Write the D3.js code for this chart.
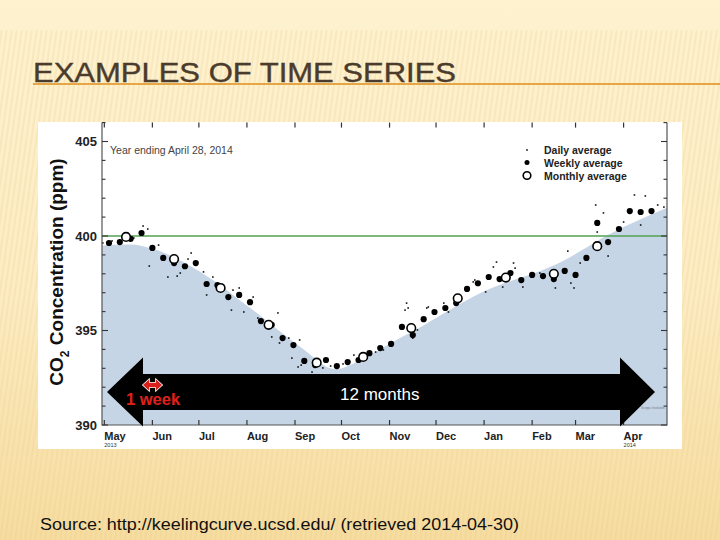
<!DOCTYPE html>
<html>
<head>
<meta charset="utf-8">
<script src="https://cdn.jsdelivr.net/npm/d3@7"></script>
<style>
  body { margin: 0; background: #fdf0c8; }
  text { font-family: "Liberation Sans", Arial, sans-serif; }
</style>
</head>
<body>
<svg></svg>
<script>
// Slide size.
var width = 720,
    height = 540;

// ---- data ----
var monthLabels = ["May", "Jun", "Jul", "Aug", "Sep", "Oct", "Nov", "Dec", "Jan", "Feb", "Mar", "Apr"];
var yearLabels = [{ month: "2013-05-01", label: "2013" }, { month: "2014-04-01", label: "2014" }];
var yMajor = [390, 395, 400, 405];

// smoothed seasonal curve (blue area)
var curveDates = ["2013-04-29", "2013-05-18", "2013-05-31", "2013-07-02", "2013-08-03", "2013-09-05",
                  "2013-09-27", "2013-10-15", "2013-11-01", "2013-11-17", "2013-12-30", "2014-02-19",
                  "2014-03-24", "2014-04-29"];
var curvePpm = [399.5, 399.55, 399.35, 398.1, 396.2, 394.1,
                392.95, 393.5, 394.3, 395.0, 397.0, 398.6,
                400.15, 401.5];

// monthly averages (open circles), mid month
var monthlyDates = ["2013-05-15", "2013-06-15", "2013-07-15", "2013-08-15", "2013-09-15", "2013-10-15",
                    "2013-11-15", "2013-12-15", "2014-01-15", "2014-02-15", "2014-03-15"];
var monthlyPpm = [399.95, 398.78, 397.25, 395.3, 393.3, 393.6, 395.13, 396.7, 397.8, 398.0, 399.46];

// weekly averages (filled dots), one per week from May 4, 2013
var weeklyStart = "2013-05-04";
var weeklyPpm = [399.63, 399.68, 399.85, 400.16, 399.37, 398.84, 398.57, 398.4, 398.57, 397.46,
                 397.4, 396.77, 396.88, 396.5, 395.5, 395.3, 394.6, 394.23, 393.39, 393.17,
                 393.44, 393.12, 393.33, 393.44, 393.8, 394.07, 394.29, 395.19, 394.76, 395.6,
                 395.98, 396.19, 396.45, 397.2, 397.5, 397.83, 397.72, 398.04, 397.67, 397.94,
                 397.88, 397.72, 398.15, 397.94, 398.84, 400.69, 399.68, 400.37, 401.32, 401.27,
                 401.32];

// a sample of the daily averages (specks), days after May 1, 2013
var dailyDay = [-1, 5, 15, 25, 28, 19, 35, 29, 41, 49, 47, 56, 54, 64, 70, 66, 87, 83, 96, 82,
                90, 99, 112, 108, 113, 119, 121, 125, 126, 127, 134, 141, 146, 154, 161, 175, 180,
                195, 194, 196, 199, 202, 208, 209, 219, 222, 238, 230, 239, 246, 251, 253, 264,
                265, 257, 270, 281, 291, 301, 303, 299, 307, 317, 322, 318, 325, 335, 342, 349,
                357, 361, 346];
var dailyPpm = [399.63, 399.74, 400.16, 400.53, 400.37, 399.89, 399.52, 398.41, 397.83, 398.04,
                397.88, 399.1, 398.78, 398.1, 397.83, 396.88, 397.25, 397.14, 396.77, 396.08,
                395.98, 395.66, 395.93, 394.66, 394.34, 394.6, 393.54, 393.07, 394.5, 393.17,
                392.8, 393.02, 393.12, 393.23, 393.7, 393.86, 393.97, 396.45, 396.08, 396.19,
                394.6, 395.03, 396.19, 396.24, 396.45, 395.98, 397.57, 396.72, 397.67, 397.04,
                398.36, 398.62, 398.57, 398.3, 397.3, 397.3, 398.04, 397.25, 397.51, 397.25,
                399.2, 398.57, 401.64, 401.22, 400.21, 398.94, 400.74, 402.17, 402.12, 401.64,
                401.53, 400.58];

var parse = d3.timeParse("%Y-%m-%d");

var svg = d3.select("svg")
    .attr("width", width)
    .attr("height", height);

// ---- slide background ----
var defs = svg.append("defs");
var bg = defs.append("linearGradient")
    .attr("id", "bg").attr("x1", 0).attr("y1", 0).attr("x2", 0).attr("y2", 1);
bg.append("stop").attr("offset", "0%").attr("stop-color", "#fef2cf");
bg.append("stop").attr("offset", "55%").attr("stop-color", "#fcecc2");
bg.append("stop").attr("offset", "100%").attr("stop-color", "#f6dc9f");

var stripes = defs.append("pattern")
    .attr("id", "stripes")
    .attr("width", 5).attr("height", 10)
    .attr("patternUnits", "userSpaceOnUse")
    .attr("patternTransform", "skewX(-8)");
stripes.append("rect").attr("width", 2).attr("height", 10)
    .attr("fill", "#e9c88a").attr("opacity", 0.22);

svg.append("rect").attr("width", width).attr("height", height).attr("fill", "url(#bg)");
svg.append("rect").attr("y", 30).attr("width", width).attr("height", height - 30)
    .attr("fill", "url(#stripes)");

// ---- title ----
svg.append("text")
    .attr("x", 33).attr("y", 82)
    .attr("textLength", 423).attr("lengthAdjust", "spacingAndGlyphs")
    .style("font-family", "'Liberation Sans Narrow', 'Liberation Sans', Arial, sans-serif")
    .style("font-size", "28px")
    .attr("fill", "#4a3b2c")
    .attr("stroke", "#4a3b2c").attr("stroke-width", 0.4)
    .text("EXAMPLES OF TIME SERIES");

svg.append("line")
    .attr("x1", 33).attr("x2", width)
    .attr("y1", 84).attr("y2", 84)
    .attr("stroke", "#e6a645").attr("stroke-width", 2);

// ---- chart panel ----
svg.append("rect")
    .attr("x", 38).attr("y", 122)
    .attr("width", 644).attr("height", 327)
    .attr("fill", "#ffffff");

var x = d3.scaleTime()
    .domain([new Date(2013, 3, 29, 12), new Date(2014, 3, 29)])
    .range([102, 667]);

var y = d3.scaleLinear()
    .domain([390, 406])
    .range([425, 122.6]);

var plot = svg.append("g");

// clip to plot box
defs.append("clipPath").attr("id", "plotclip")
  .append("rect")
    .attr("x", x.range()[0]).attr("y", y.range()[1])
    .attr("width", x.range()[1] - x.range()[0])
    .attr("height", y.range()[0] - y.range()[1]);

var inner = plot.append("g").attr("clip-path", "url(#plotclip)");

var curveData = curveDates.map(function (d, i) { return { date: parse(d), v: curvePpm[i] }; });

inner.append("path")
    .datum(curveData)
    .attr("fill", "#c5d5e6")
    .attr("d", d3.area()
        .curve(d3.curveMonotoneX)
        .x(function (d) { return x(d.date); })
        .y0(y(390))
        .y1(function (d) { return y(d.v); }));

inner.append("line")
    .attr("x1", x.range()[0]).attr("x2", x.range()[1])
    .attr("y1", y(400)).attr("y2", y(400))
    .attr("stroke", "#52a052").attr("stroke-width", 1.6);

// daily specks
var may1 = new Date(2013, 4, 1);
inner.selectAll("rect.daily")
    .data(dailyDay.map(function (d, i) { return { date: d3.timeDay.offset(may1, d), v: dailyPpm[i] }; }))
  .enter().append("rect")
    .attr("class", "daily")
    .attr("x", function (d) { return x(d.date) - 0.8; })
    .attr("y", function (d) { return y(d.v) - 0.8; })
    .attr("width", 1.6).attr("height", 1.6)
    .attr("fill", "#111");

// weekly dots
var w0 = parse(weeklyStart);
inner.selectAll("circle.weekly")
    .data(weeklyPpm.map(function (v, i) { return { date: d3.timeDay.offset(w0, 7 * i), v: v }; }))
  .enter().append("circle")
    .attr("class", "weekly")
    .attr("cx", function (d) { return x(d.date); })
    .attr("cy", function (d) { return y(d.v); })
    .attr("r", 3.1)
    .attr("fill", "#000");

// monthly circles
inner.selectAll("circle.monthly")
    .data(monthlyDates.map(function (d, i) { return { date: parse(d), v: monthlyPpm[i] }; }))
  .enter().append("circle")
    .attr("class", "monthly")
    .attr("cx", function (d) { return x(d.date); })
    .attr("cy", function (d) { return y(d.v); })
    .attr("r", 4.3)
    .attr("fill", "#fff")
    .attr("stroke", "#000")
    .attr("stroke-width", 1.6);

// ---- frame and ticks ----
var x0 = x.range()[0], x1 = x.range()[1], yTop = y.range()[1], yBot = y.range()[0];
plot.append("path")
    .attr("d", "M" + x0 + "," + yTop + "V" + yBot + "H" + x1 + "V" + yTop)
    .attr("fill", "none").attr("stroke", "#555").attr("stroke-width", 1.2);

var monthTicks = d3.timeMonth.range(new Date(2013, 4, 1), new Date(2014, 3, 2));

plot.selectAll("line.xt")
    .data(monthTicks)
  .enter().append("line")
    .attr("x1", function (d) { return x(d); }).attr("x2", function (d) { return x(d); })
    .attr("y1", yBot).attr("y2", yBot - 5)
    .attr("stroke", "#333").attr("stroke-width", 1.2);

plot.selectAll("line.xtt")
    .data(monthTicks)
  .enter().append("line")
    .attr("x1", function (d) { return x(d); }).attr("x2", function (d) { return x(d); })
    .attr("y1", yTop).attr("y2", yTop + 5)
    .attr("stroke", "#333").attr("stroke-width", 1.2);

plot.selectAll("text.xl")
    .data(monthTicks)
  .enter().append("text")
    .attr("x", function (d) { return x(d); })
    .attr("y", 440)
    .style("font-size", "11px").style("font-weight", "bold")
    .attr("fill", "#222")
    .text(function (d, i) { return monthLabels[i]; });

plot.selectAll("text.yr")
    .data(yearLabels)
  .enter().append("text")
    .attr("x", function (d) { return x(parse(d.month)); })
    .attr("y", 447)
    .style("font-size", "5.5px")
    .attr("fill", "#333")
    .text(function (d) { return d.label; });

var yMinor = d3.range(390, 407);
plot.selectAll("line.yl")
    .data(yMinor)
  .enter().append("line")
    .attr("x1", x0).attr("x2", function (d) { return x0 + (yMajor.indexOf(d) >= 0 ? 6 : 3.5); })
    .attr("y1", function (d) { return y(d); }).attr("y2", function (d) { return y(d); })
    .attr("stroke", "#333").attr("stroke-width", 1.1);

plot.selectAll("line.yr")
    .data(yMinor)
  .enter().append("line")
    .attr("x1", x1).attr("x2", function (d) { return x1 - (yMajor.indexOf(d) >= 0 ? 6 : 3.5); })
    .attr("y1", function (d) { return y(d); }).attr("y2", function (d) { return y(d); })
    .attr("stroke", "#333").attr("stroke-width", 1.1);

plot.selectAll("text.ylab")
    .data(yMajor)
  .enter().append("text")
    .attr("x", 97)
    .attr("y", function (d) { return y(d); })
    .attr("dy", "0.36em")
    .attr("text-anchor", "end")
    .style("font-size", "13px").style("font-weight", "bold")
    .attr("fill", "#222")
    .text(function (d) { return d; });

// y axis title
var yt = plot.append("text")
    .attr("transform", "translate(63,272) rotate(-90)")
    .attr("text-anchor", "middle")
    .style("font-size", "19px").style("font-weight", "bold")
    .attr("fill", "#111");
yt.append("tspan").text("CO");
yt.append("tspan").attr("dy", 6).style("font-size", "12px").text("2");
yt.append("tspan").attr("dy", -6).text(" Concentration (ppm)");

plot.append("text")
    .attr("x", 110).attr("y", 154)
    .style("font-size", "10.5px")
    .attr("fill", "#444")
    .text("Year ending April 28, 2014");

// legend
var legend = plot.append("g").attr("transform", "translate(527,0)");
legend.append("rect").attr("x", -0.8).attr("y", 149.2).attr("width", 1.6).attr("height", 1.6).attr("fill", "#111");
legend.append("circle").attr("cy", 162.5).attr("r", 2.5).attr("fill", "#000");
legend.append("circle").attr("cy", 175.5).attr("r", 3.8).attr("fill", "#fff")
    .attr("stroke", "#000").attr("stroke-width", 1.6);
legend.selectAll("text")
    .data(["Daily average", "Weekly average", "Monthly average"])
  .enter().append("text")
    .attr("x", 17)
    .attr("y", function (d, i) { return 150 + 13 * i; })
    .attr("dy", "0.35em")
    .style("font-size", "10.5px").style("font-weight", "bold")
    .attr("fill", "#222")
    .text(function (d) { return d; });

plot.append("text")
    .attr("x", 641).attr("y", 409)
    .style("font-size", "3px")
    .attr("fill", "#777")
    .text("Scripps Institution");

// ---- annotation arrows ----
var arrowMid = 392, shaftH = 18, headH = 34.5;
var leftTip = 107, leftBack = 143, rightBack = 620, rightTip = 655;
svg.append("path")
    .attr("d", "M" + leftTip + "," + arrowMid +
               "L" + leftBack + "," + (arrowMid - headH) +
               "V" + (arrowMid - shaftH) +
               "H" + rightBack +
               "V" + (arrowMid - headH) +
               "L" + rightTip + "," + arrowMid +
               "L" + rightBack + "," + (arrowMid + headH) +
               "V" + (arrowMid + shaftH) +
               "H" + leftBack +
               "V" + (arrowMid + headH) + "Z")
    .attr("fill", "#000");

svg.append("text")
    .attr("x", 340).attr("y", 400)
    .style("font-size", "17px")
    .attr("fill", "#fff")
    .text("12 months");

// small "1 week" double arrow
svg.append("path")
    .attr("d", "M143,385 L149,379.5 V382.8 H156 V379.5 L162,385 L156,390.5 V387.2 H149 V390.5 Z")
    .attr("fill", "#d9201c")
    .attr("stroke", "#fff").attr("stroke-width", 1.6)
    .style("paint-order", "stroke");

svg.append("text")
    .attr("x", 126).attr("y", 405)
    .style("font-size", "16.5px").style("font-weight", "bold")
    .attr("fill", "#e0201c")
    .text("1 week");

// ---- source ----
svg.append("text")
    .attr("x", 40).attr("y", 530)
    .attr("textLength", 479).attr("lengthAdjust", "spacingAndGlyphs")
    .style("font-size", "16px")
    .attr("fill", "#111")
    .text("Source: http://keelingcurve.ucsd.edu/ (retrieved 2014-04-30)");
</script>
</body>
</html>
